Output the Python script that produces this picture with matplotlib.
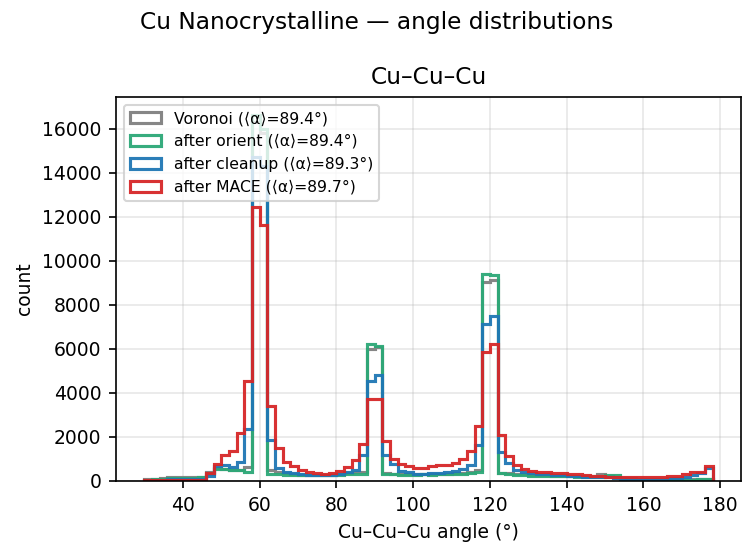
import numpy as np
import matplotlib
matplotlib.use("Agg")
import matplotlib.pyplot as plt

plt.rcParams["font.size"] = 9

# bin edges, 2 degree bins from 30 to 178
bin_edges = np.arange(30, 180, 2)

# counts per bin
voronoi = [80, 90, 150, 180, 190, 190, 180, 180, 400, 570, 540, 520, 480, 620,
           16300, 15800, 520, 420, 350, 310, 290, 280, 280, 280, 290, 300, 350, 420,
           420, 6000, 6100, 380, 330, 310, 300, 300, 310, 300, 310, 320, 350, 380,
           430, 520, 9030, 9110, 380, 370, 330, 310, 280, 260, 250, 240, 240, 240,
           230, 220, 220, 300, 220, 200, 140, 120, 110, 100, 100, 100, 100, 90,
           90, 90, 90, 90]
orient = [60, 70, 80, 140, 150, 150, 150, 170, 330, 540, 560, 520, 500, 420,
          16600, 16000, 310, 310, 290, 270, 260, 260, 250, 250, 260, 260, 300, 330,
          340, 6200, 6150, 310, 300, 290, 280, 290, 300, 290, 300, 310, 300, 330,
          360, 420, 9400, 9350, 350, 340, 280, 270, 240, 230, 230, 220, 220, 210,
          200, 200, 190, 180, 260, 260, 110, 100, 90, 90, 90, 80, 80, 70,
          60, 60, 70, 100]
cleanup = [20, 30, 60, 100, 110, 110, 110, 110, 220, 700, 720, 640, 860, 2380,
           14700, 14300, 1860, 575, 420, 370, 320, 280, 270, 270, 270, 320, 400, 500,
           1200, 4560, 4820, 1200, 780, 470, 390, 330, 320, 350, 360, 400, 470, 530,
           725, 1630, 7120, 7480, 1330, 800, 520, 420, 380, 320, 300, 260, 250, 240,
           230, 180, 170, 170, 160, 150, 110, 100, 100, 100, 100, 110, 140, 150,
           200, 270, 350, 580]
mace = [30, 30, 40, 40, 40, 40, 50, 60, 370, 770, 1170, 1340, 2200, 4540,
        12450, 11600, 3420, 1510, 870, 680, 480, 410, 360, 330, 370, 460, 650, 950,
        1670, 3720, 3700, 1830, 980, 770, 700, 580, 590, 680, 730, 730, 810, 1000,
        1380, 2490, 5870, 6230, 2080, 1120, 725, 540, 470, 420, 400, 360, 350, 310,
        300, 250, 240, 220, 200, 200, 180, 170, 170, 170, 170, 170, 220, 230,
        310, 390, 420, 660]

labels = ["Voronoi (⟨α⟩=89.4°)", "after orient (⟨α⟩=89.4°)",
          "after cleanup (⟨α⟩=89.3°)", "after MACE (⟨α⟩=89.7°)"]
colors = ["#808080", "#2ca877", "#1f77b4", "#d62728"]

fig = plt.figure(figsize=(754 / 150, 554 / 150), dpi=150)
ax = fig.add_axes([116 / 754, 73 / 554, 625 / 754, 384 / 554])

centers = bin_edges[:-1] + 1
for counts, lab, col in zip([voronoi, orient, cleanup, mace], labels, colors):
    ax.hist(centers, bins=bin_edges, weights=counts, histtype="step",
            label=lab, color=col, linewidth=1.5, alpha=0.95)

ax.set_title("Cu–Cu–Cu", fontsize=11.2)
ax.set_xlabel("Cu–Cu–Cu angle (°)")
ax.set_ylabel("count")
ax.grid(True, alpha=0.3)
ax.legend(loc="upper left", fontsize="small")
fig.suptitle("Cu Nanocrystalline — angle distributions", fontsize=11.2)

fig.savefig("out.png", dpi=150)
